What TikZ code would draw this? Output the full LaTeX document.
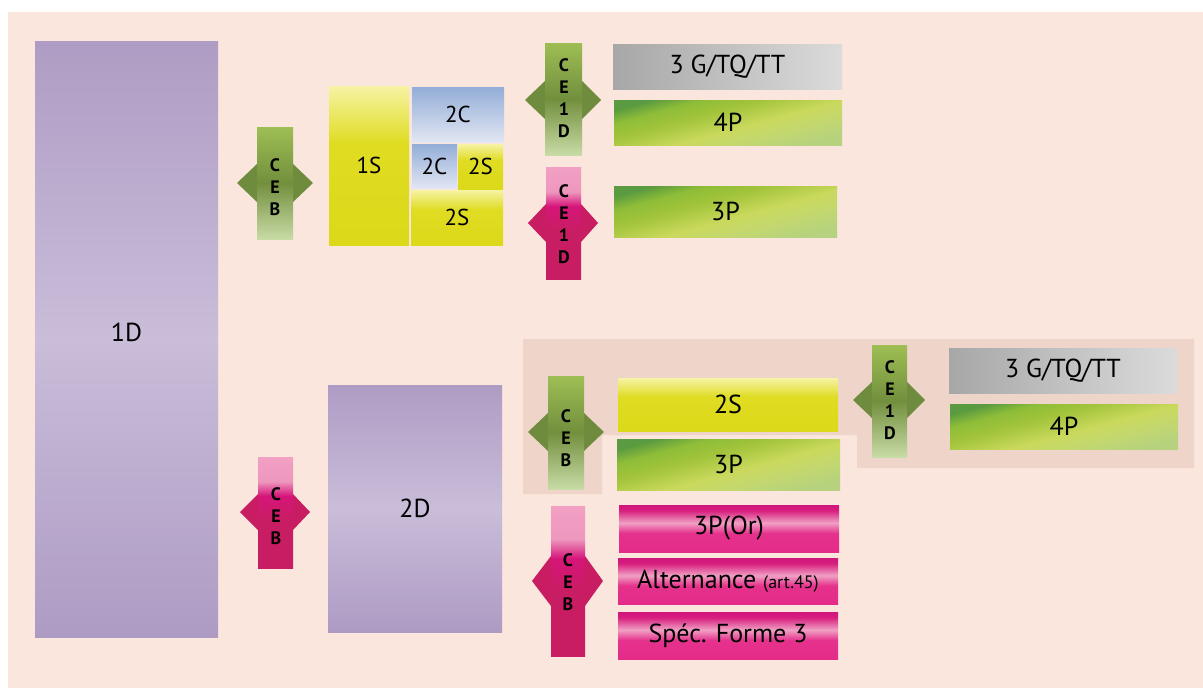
\documentclass[tikz,border=0pt]{standalone}
\usepackage{fontspec}
\setmainfont{PT Sans}
\usetikzlibrary{calc}
\definecolor{bgc}{HTML}{FAE6DC}
\definecolor{panelc}{HTML}{EFD4CA}
\definecolor{pu0}{HTML}{AF9CC4}
\definecolor{pu1}{HTML}{C9BDD9}
\definecolor{pu2}{HTML}{AE9BC4}
\definecolor{ye0}{HTML}{F6F3A4}
\definecolor{ye1}{HTML}{DFDC22}
\definecolor{ye2}{HTML}{DCD91A}
\definecolor{pa0}{HTML}{F2A0C4}
\definecolor{pa1}{HTML}{EE97BE}
\definecolor{pa2}{HTML}{D6157A}
\definecolor{pa3}{HTML}{C91D63}
\definecolor{pr0}{HTML}{D0167A}
\definecolor{pr1}{HTML}{D8207F}
\definecolor{pr2}{HTML}{F0A0C4}
\definecolor{pr3}{HTML}{E5328C}
\definecolor{pr4}{HTML}{E52B89}
\definecolor{gp0}{HTML}{5A9A40}
\definecolor{gp1}{HTML}{8EBD38}
\definecolor{gp2}{HTML}{A2C43B}
\definecolor{gp3}{HTML}{CAD95D}
\definecolor{gp4}{HTML}{C2D770}
\definecolor{gp5}{HTML}{B6D27E}
\definecolor{gwing}{HTML}{6F8C3E}
\definecolor{pwing}{HTML}{C91D63}
\definecolor{blue0}{HTML}{93ADD7}
\definecolor{blue1}{HTML}{E1E6F3}
\definecolor{gray0}{HTML}{A7A7A7}
\definecolor{gray1}{HTML}{DBDBDB}
\definecolor{gb0}{HTML}{9EBE54}
\definecolor{gb1}{HTML}{728F3D}
\definecolor{gb2}{HTML}{C8DBA6}
\pgfdeclareverticalshading{purp}{100bp}{color(0bp)=(pu2); color(25bp)=(pu2); color(50bp)=(pu1); color(75bp)=(pu0); color(100bp)=(pu0)}
\pgfdeclareverticalshading{yel}{100bp}{color(0bp)=(ye2); color(25bp)=(ye2); color(57bp)=(ye1); color(75bp)=(ye0); color(100bp)=(ye0)}
\pgfdeclareverticalshading{pinkbar}{100bp}{color(0bp)=(pa3); color(25bp)=(pa3); color(47bp)=(pa3); color(57.5bp)=(pa2); color(64bp)=(pa1); color(75bp)=(pa0); color(100bp)=(pa0)}
\pgfdeclareverticalshading{pinkrow}{100bp}{color(0bp)=(pr4); color(25bp)=(pr4); color(45bp)=(pr3); color(56bp)=(pr2); color(69bp)=(pr1); color(75bp)=(pr0); color(100bp)=(pr0)}
\pgfdeclarehorizontalshading{grnp}{100bp}{color(0bp)=(gp0); color(25bp)=(gp0); color(33bp)=(gp1); color(42bp)=(gp2); color(55bp)=(gp3); color(65bp)=(gp4); color(75bp)=(gp5); color(100bp)=(gp5)}
\tikzset{
  blk/.style={inner sep=0pt, outer sep=0pt, anchor=north west, font=\fontsize{26}{30}\selectfont},
  purpbox/.style={blk, shade, shading=purp},
  yelbox/.style={blk, shade, shading=yel},
  bluebox/.style={blk, top color=blue0, bottom color=blue1},
  graybox/.style={blk, left color=gray0, right color=gray1},
  grnbox/.style={blk, shade, shading=grnp, shading angle=-75},
  pinkbox/.style={blk, shade, shading=pinkrow},
  gbar/.style={inner sep=0pt, outer sep=0pt, anchor=north west, top color=gb0, bottom color=gb2, middle color=gb1},
  pbar/.style={inner sep=0pt, outer sep=0pt, anchor=north west, shade, shading=pinkbar},
  lett/.style={align=center, font=\fontsize{18}{22}\selectfont\bfseries, inner sep=0pt},
  smalllbl/.style={font=\fontsize{23}{26}\selectfont}
}
\begin{document}
\begin{tikzpicture}[x=1pt,y=-1pt]
\useasboundingbox (0,0) rectangle (1203,688);
\fill[white] (0,0) rectangle (1203,688);
\fill[bgc] (8,12) rectangle (1203,688);
\fill[panelc] (523,339) -- (1194,339) -- (1194,468) -- (857,468) -- (857,435) -- (602,435) -- (602,494) -- (523,494) -- cycle;

% big purple blocks
\node[purpbox, minimum width=183pt, minimum height=596pt, text depth=14pt] (d1) at (35,41) {1D};
\node[purpbox, minimum width=174pt, minimum height=247pt] (d2) at (328,385) {2D};

% top middle cluster
\node[yelbox, smalllbl, minimum width=80pt, minimum height=159pt] (s1) at (329,86) {1S};
\node[bluebox, smalllbl, minimum width=92pt, minimum height=55pt] (c2a) at (412,87) {2C};
\node[bluebox, smalllbl, minimum width=45pt, minimum height=44pt] (c2b) at (412,144) {2C};
\node[yelbox, smalllbl, minimum width=45pt, minimum height=45pt] (s2a) at (458,144) {2S};
\node[yelbox, smalllbl, minimum width=92pt, minimum height=55pt] (s2b) at (411,190) {2S};

% top right bars
\node[graybox, minimum width=229pt, minimum height=45pt] (g1) at (613,44) {3 G/TQ/TT};
\node[grnbox, minimum width=228pt, minimum height=45pt] (p41) at (614,100) {4P};
\node[grnbox, minimum width=223pt, minimum height=51pt] (p31) at (614,186) {3P};

% bottom right bars
\node[yelbox, minimum width=220pt, minimum height=53pt] (s2c) at (618,378) {2S};
\node[grnbox, minimum width=223pt, minimum height=51pt] (p32) at (617,439) {3P};
\node[graybox, minimum width=228pt, minimum height=45pt] (g2) at (949,348) {3 G/TQ/TT};
\node[grnbox, minimum width=228pt, minimum height=45pt] (p42) at (950,404) {4P};
\node[pinkbox, minimum width=220pt, minimum height=47pt] (or) at (619,505) {3P(Or)};
\node[pinkbox, minimum width=220pt, minimum height=46pt] (alt) at (618,558) {Alternance {\fontsize{18}{20}\selectfont(art.45)}};
\node[pinkbox, minimum width=220pt, minimum height=47pt] (spe) at (618,612) {Spéc. Forme 3};

% arrow 1 : green CEB
\fill[gwing] (237,183) -- (257,164) -- (293,164) -- (313,183) -- (293,202) -- (257,202) -- cycle;
\node[gbar, minimum width=36pt, minimum height=112pt] (a1) at (257,127) {};
\node[lett] (a1t) at (275,187) {C\\E\\B};

% arrow 2 : pink CEB
\fill[pwing] (240,512) -- (258,494) -- (293,494) -- (310,512) -- (293,530) -- (258,530) -- cycle;
\node[pbar, minimum width=35pt, minimum height=111pt] (a2) at (258,457) {};
\node[lett] (a2t) at (276,516) {C\\E\\B};

% arrow 3 : green CE1D
\fill[gwing] (525,100) -- (545,81) -- (582,81) -- (601,100) -- (582,119) -- (545,119) -- cycle;
\node[gbar, minimum width=37pt, minimum height=112pt] (a3) at (545,43) {};
\node[lett] (a3t) at (564,98) {C\\E\\1\\D};

% arrow 4 : pink CE1D
\fill[pwing] (528,223) -- (546,204) -- (581,204) -- (598,223) -- (581,242) -- (546,242) -- cycle;
\node[pbar, minimum width=35pt, minimum height=112pt] (a4) at (546,167) {};
\node[lett] (a4t) at (564,224) {C\\E\\1\\D};

% arrow 5 : green CEB (panel)
\fill[gwing] (528,432) -- (548,413) -- (584,413) -- (604,432) -- (584,451) -- (548,451) -- cycle;
\node[gbar, minimum width=36pt, minimum height=113pt] (a5) at (548,376) {};
\node[lett] (a5t) at (566,438) {C\\E\\B};

% arrow 6 : green CE1D (panel)
\fill[gwing] (853,400) -- (872,382) -- (907,382) -- (925,400) -- (907,418) -- (872,418) -- cycle;
\node[gbar, minimum width=35pt, minimum height=112pt] (a6) at (872,345) {};
\node[lett] (a6t) at (890,400) {C\\E\\1\\D};

% arrow 7 : pink CEB (bottom)
\fill[pwing] (532,581) -- (551,556) -- (585,556) -- (603,581) -- (585,606) -- (551,606) -- cycle;
\node[pbar, minimum width=34pt, minimum height=150pt] (a7) at (551,506) {};
\node[lett] (a7t) at (568,582) {C\\E\\B};
\end{tikzpicture}
\end{document}
